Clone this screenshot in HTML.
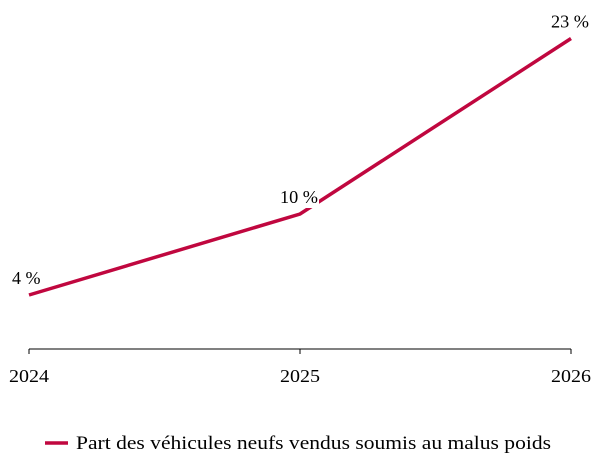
<!DOCTYPE html>
<html><head><meta charset="utf-8">
<style>
html,body{margin:0;padding:0;background:#fff;}
svg text{font-family:"Liberation Serif",serif;}
</style></head>
<body>
<svg width="609" height="470" viewBox="0 0 609 470">
<g id="plot"></g>
</svg>
<script>
const categories = ["2024","2025","2026"];
const seriesValues = [4, 10, 23];
const valueLabels = ["4 %","10 %","23 %"];
const legendLabel = "Part des véhicules neufs vendus soumis au malus poids";

const NS="http://www.w3.org/2000/svg";
const g=document.getElementById('plot');
const x0=29,x1=571,y0=349,scale=13.5;
function xPos(i){return x0+(x1-x0)*i/(categories.length-1);}
function yPos(v){return y0-v*scale;}
function mk(t,a){const e=document.createElementNS(NS,t);for(const k in a)e.setAttribute(k,a[k]);g.appendChild(e);return e;}

const axis=mk('line',{x1:x0,y1:y0,x2:x1,y2:y0,stroke:'#000','stroke-width':1});


categories.forEach((c,i)=>{
  const t=mk('line',{x1:xPos(i),y1:y0,x2:xPos(i),y2:y0+5,stroke:'#000','stroke-width':1});
  
  
  const l=mk('text',{x:xPos(i),y:382,'text-anchor':'middle','font-size':18,fill:'#000',textLength:40,lengthAdjust:'spacingAndGlyphs'});
  l.textContent=c;
  
  
});
const pts=seriesValues.map((v,i)=>xPos(i)+','+yPos(v)).join(' ');
const line=mk('polyline',{points:pts,fill:'none',stroke:'#c0073f','stroke-width':3.5,'stroke-linejoin':'miter'});


const anchors=['start','end','end'];
const dx=[-17,18,18];
seriesValues.forEach((v,i)=>{
  const x=xPos(i)+dx[i], y=yPos(v)-11;
  const w=valueLabels[i].length*9.5+2;
  const bx=anchors[i]==='start'?x-1:x-w+1;
  const r=mk('rect',{x:bx,y:y-15,width:w,height:20,fill:'#fff'});
  
  
  const t=mk('text',{x:x,y:y,'text-anchor':anchors[i],'font-size':18,fill:'#000',textLength:valueLabels[i].length*9.5,lengthAdjust:'spacingAndGlyphs'});
  t.textContent=valueLabels[i];
  
  
});
const ll=mk('line',{x1:45,y1:443,x2:68,y2:443,stroke:'#c0073f','stroke-width':3.5});


const lt=mk('text',{x:76,y:449,'font-size':19,fill:'#000',textLength:475,lengthAdjust:'spacingAndGlyphs'});
lt.textContent=legendLabel;


</script>
</body></html>
